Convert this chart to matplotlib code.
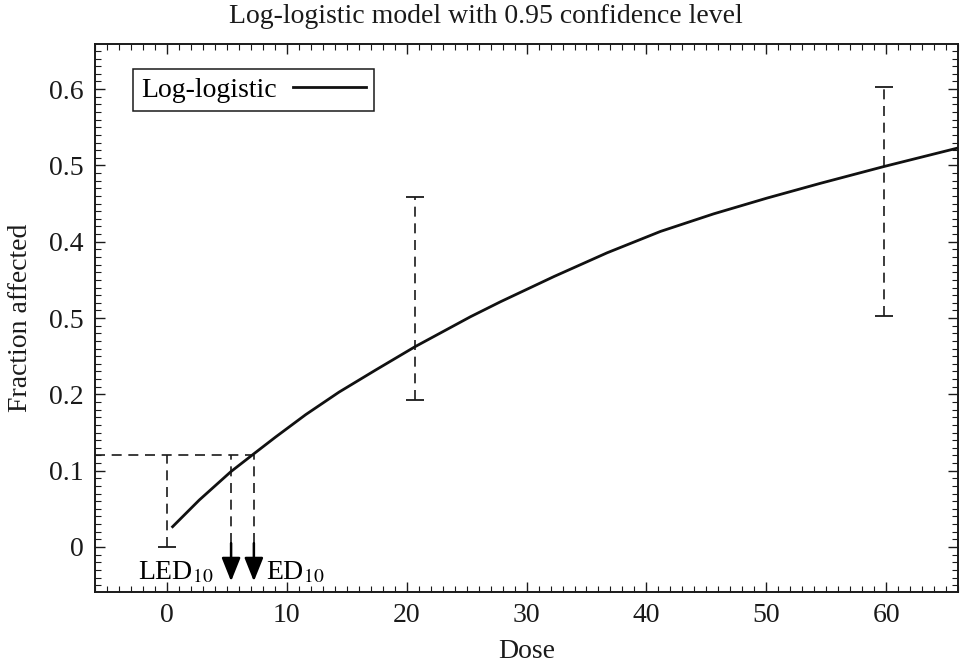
import matplotlib
matplotlib.use("Agg")
import matplotlib.pyplot as plt
from matplotlib.ticker import MultipleLocator, FixedLocator, FixedFormatter

# ---- data ----
curve_x = [0.47, 2.7, 5.33, 7.28, 9.08, 11.58, 14.36, 17.42, 20.7, 25.33,
           27.83, 32.3, 36.72, 41.17, 45.6, 50.06, 54.5, 59.8, 65.9]
curve_y = [0.0266, 0.0616, 0.0987, 0.1225, 0.1443, 0.1735, 0.203, 0.232,
           0.2625, 0.3018, 0.3214, 0.3545, 0.3855, 0.4135, 0.4365, 0.4572,
           0.4765, 0.4985, 0.5225]

ci_x = [20.7, 59.8]
ci_low = [0.192, 0.303]
ci_high = [0.459, 0.603]

bmd_x = 0.0          # lower bar from 0 to reference level
bmd_low = 0.0
ref_level = 0.12
led10 = 5.35
ed10 = 7.25

ytick_vals = [0, 0.1, 0.2, 0.3, 0.4, 0.5, 0.6]
ytick_labels = ["0", "0.1", "0.2", "0.5", "0.4", "0.5", "0.6"]
xtick_vals = [0, 10, 20, 30, 40, 50, 60]

# ---- style ----
plt.rcParams["font.family"] = ["Liberation Serif", "DejaVu Serif"]
plt.rcParams["mathtext.fontset"] = "stix"
FS = 20
DASH = (0, (6, 4))
INK = "#1a1a1a"

fig = plt.figure(figsize=(9.6, 6.71), dpi=100)
ax = fig.add_axes([0.099, 0.1177, 0.899, 0.8166])

ax.plot(curve_x, curve_y, color="#111111", lw=2.0, label="Log-logistic",
        zorder=3, solid_joinstyle="round")

# confidence bars
ax.vlines(ci_x, ci_low, ci_high, colors=INK, lw=1.2, linestyles=DASH)
ax.plot(ci_x, ci_low, ls="none", marker="_", ms=13, mew=1.3, color=INK)
ax.plot(ci_x, ci_high, ls="none", marker="_", ms=13, mew=1.3, color=INK)

# bar at zero dose up to reference level
ax.vlines([bmd_x], [bmd_low], [ref_level], colors=INK, lw=1.2, linestyles=DASH)
ax.plot([bmd_x], [bmd_low], ls="none", marker="_", ms=13, mew=1.3, color=INK)

# reference horizontal line
ax.hlines([ref_level], -6, ed10, colors=INK, lw=1.2, linestyles=DASH)

# dashed verticals down to arrows
arrow_top = 0.005
arrow_tip = -0.045
ax.vlines([led10, ed10], arrow_top, ref_level, colors=INK, lw=1.2, linestyles=DASH)
for xv in (led10, ed10):
    ax.annotate("", xy=(xv, arrow_tip), xytext=(xv, arrow_top),
                arrowprops=dict(arrowstyle="-|>,head_length=1.0,head_width=0.4",
                                mutation_scale=14.4, color="black", lw=1.8,
                                shrinkA=0, shrinkB=0))

ax.text(3.9, -0.043, r"LED$_{10}$", fontsize=FS, ha="right", va="baseline")
ax.text(8.25, -0.043, r"ED$_{10}$", fontsize=FS, ha="left", va="baseline")

ax.set_xlim(-6, 66)
ax.set_ylim(-0.059, 0.659)

ax.xaxis.set_major_locator(FixedLocator(xtick_vals))
ax.xaxis.set_minor_locator(MultipleLocator(1))
ax.yaxis.set_major_locator(FixedLocator(ytick_vals))
ax.yaxis.set_major_formatter(FixedFormatter(ytick_labels))
ax.yaxis.set_minor_locator(MultipleLocator(0.01))

ax.tick_params(which="both", direction="in", top=True, right=True,
               labelsize=FS, color=INK, labelcolor=INK)
ax.tick_params(which="major", length=7, width=1.0, pad=8)
ax.tick_params(which="minor", length=4, width=0.8)
for s in ax.spines.values():
    s.set_linewidth(1.4)
    s.set_color(INK)

ax.set_xlabel("Dose", fontsize=FS, labelpad=8, color=INK)
ax.set_ylabel("Fraction affected", fontsize=FS, labelpad=12, color=INK)
fig.text(0.506, 0.975, "Log-logistic model with 0.95 confidence level",
         fontsize=FS, ha="center", va="center", color=INK)

leg = ax.legend(loc="upper left", bbox_to_anchor=(0.0437, 0.954),
                borderaxespad=0, fontsize=FS, markerfirst=False,
                handlelength=2.6, fancybox=False, framealpha=1,
                edgecolor=INK, borderpad=0.3, handletextpad=0.6)
leg.get_frame().set_linewidth(1.1)

fig.savefig("out.png", dpi=100)
